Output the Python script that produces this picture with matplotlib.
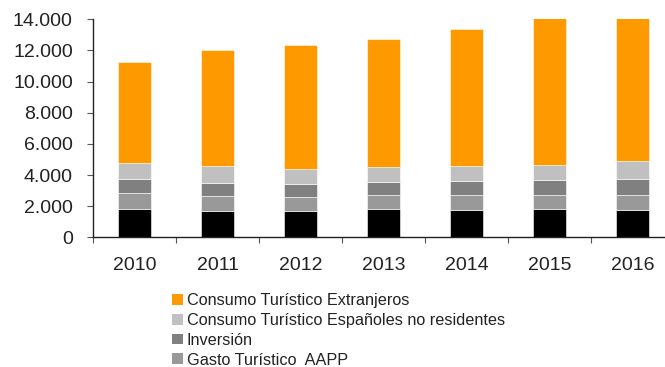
import numpy as np
import matplotlib.pyplot as plt
from matplotlib.patches import Patch

plt.rcParams["font.family"] = ["Liberation Sans", "DejaVu Sans"]

years = ["2010", "2011", "2012", "2013", "2014", "2015", "2016"]
residentes = [1820, 1710, 1690, 1820, 1760, 1800, 1780]
gasto_aapp = [1030, 920, 880, 880, 940, 920, 940]
inversion = [900, 860, 860, 880, 940, 940, 1010]
espanoles_no_res = [1020, 1090, 960, 960, 940, 1010, 1150]
extranjeros = [6470, 7430, 7960, 8220, 8820, 9500, 9350]

series = [
    ("Consumo Turístico Residentes", residentes, "#000000"),
    ("Gasto Turístico  AAPP", gasto_aapp, "#999999"),
    ("Inversión", inversion, "#808080"),
    ("Consumo Turístico Españoles no residentes", espanoles_no_res, "#c0c0c0"),
    ("Consumo Turístico Extranjeros", extranjeros, "#ff9900"),
]

x = np.arange(len(years))

fig = plt.figure(figsize=(6.65, 3.67), dpi=100)
ax = fig.add_axes([93 / 665, 1 - 237.3 / 367, 1 - 93 / 665, (237.3 - 19.3) / 367])

bottom = np.zeros(len(years))
handles = {}
for name, vals, color in series:
    ax.bar(x, vals, 0.4, bottom=bottom, color=color, edgecolor="white", linewidth=0.4)
    bottom += np.array(vals)
    handles[name] = Patch(facecolor=color)

ax.set_ylim(0, 14000)
ax.set_xlim(-0.5, 6.39)
ax.set_yticks(np.arange(0, 14001, 2000))
ax.set_yticklabels([f"{v:,}".replace(",", ".") for v in range(0, 14001, 2000)])
ax.set_xticks(x)
ax.set_xticklabels(years)
ax.set_xticks(np.arange(-0.5, 6.5, 1), minor=True)

for side in ["top", "right"]:
    ax.spines[side].set_visible(False)
for side in ["left", "bottom"]:
    ax.spines[side].set_color("#222222")
    ax.spines[side].set_linewidth(1)

ax.tick_params(axis="y", direction="out", length=4.5, width=0.8, color="#555555",
               labelsize=14, labelcolor="#222222", pad=10)
ax.tick_params(axis="x", which="major", length=0, labelsize=14, labelcolor="#222222", pad=14)
ax.tick_params(axis="x", which="minor", direction="out", length=4.5, width=0.8, color="#555555")

legend_order = ["Consumo Turístico Extranjeros",
                "Consumo Turístico Españoles no residentes",
                "Inversión",
                "Gasto Turístico  AAPP"]
fig.legend([handles[n] for n in legend_order], legend_order,
           loc="upper left", bbox_to_anchor=(172 / 665, 1 - 293 / 367),
           frameon=False, fontsize=11.7, handlelength=0.65, handleheight=0.65,
           handletextpad=0.25, labelspacing=0.3, borderpad=0, borderaxespad=0,
           labelcolor="#222222")

fig.savefig("out.png", dpi=100)
